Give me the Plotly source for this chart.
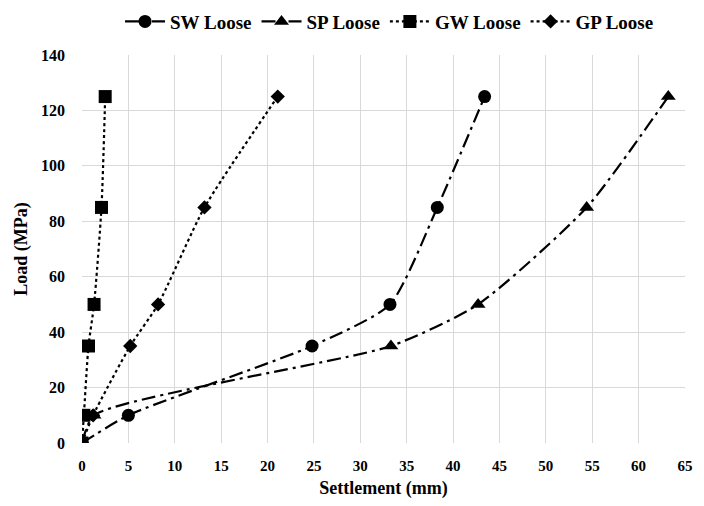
import plotly.graph_objects as go

sw_x = [0, 5, 24.8, 33.2, 38.3, 43.4]
sw_y = [0, 10, 35, 50, 85, 125]
sp_x = [0, 1.3, 33.3, 42.7, 54.4, 63.2]
sp_y = [0, 10, 35, 50, 85, 125]
gw_x = [0, 0.2, 0.7, 1.3, 2.1, 2.5]
gw_y = [0, 10, 35, 50, 85, 125]
gp_x = [0, 1.2, 5.2, 8.2, 13.2, 21.1]
gp_y = [0, 10, 35, 50, 85, 125]

font_fam = "Liberation Serif, Times New Roman, serif"
fig = go.Figure()
series = [
    ("SW Loose", sw_x, sw_y, "circle", 13, "14px,5px,3px,5px"),
    ("SP Loose", sp_x, sp_y, "triangle-up", 13, "14px,5px,3px,5px"),
    ("GW Loose", gw_x, gw_y, "square", 13, "3px,3px"),
    ("GP Loose", gp_x, gp_y, "diamond", 11, "3px,3px"),
]
for name, xs, ys, sym, sz, dash in series:
    fig.add_trace(go.Scatter(
        x=xs, y=ys, name=name, mode="lines+markers",
        line=dict(color="black", width=2.2, dash=dash, shape="spline", smoothing=0.6),
        marker=dict(symbol=sym, size=sz, color="black"),
    ))

fig.update_layout(
    width=704, height=506,
    margin=dict(l=82, r=19, t=55, b=63, autoexpand=False),
    paper_bgcolor="white", plot_bgcolor="white",
    font=dict(family=font_fam, color="black", size=15),
    legend=dict(orientation="h", x=0.51, xanchor="center", yref="container",
                y=0.995, yanchor="top",
                font=dict(family=font_fam, size=19, color="black", weight="bold"),
                itemwidth=40, tracegroupgap=0),
    showlegend=True,
)
fig.update_xaxes(
    range=[0, 65], dtick=5, tick0=0,
    showgrid=True, gridcolor="#d9d9d9", gridwidth=1,
    zeroline=False, showline=False, ticklabelstandoff=12,
    tickfont=dict(family=font_fam, size=15, color="black", weight="bold"),
    title=dict(text="Settlement (mm)", standoff=8,
               font=dict(family=font_fam, size=18, color="black", weight="bold")),
)
fig.update_yaxes(
    range=[0, 140], dtick=20, tick0=0,
    showgrid=True, gridcolor="#d9d9d9", gridwidth=1,
    zeroline=False, showline=False, ticklabelstandoff=16,
    tickfont=dict(family=font_fam, size=16, color="black", weight="bold"),
    title=dict(text="Load (MPa)", standoff=8,
               font=dict(family=font_fam, size=18, color="black", weight="bold")),
)
fig.write_html("out.html")
